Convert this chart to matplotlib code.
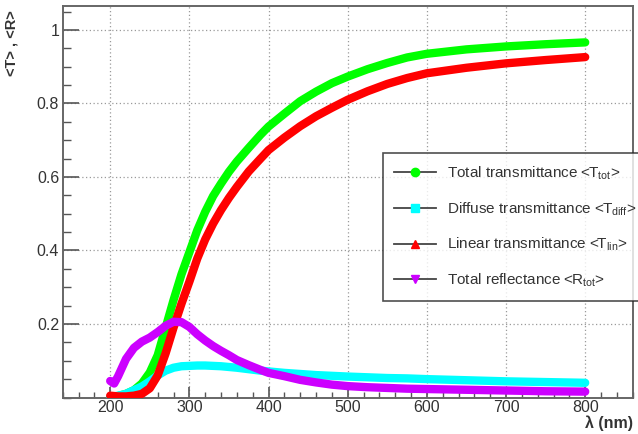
import matplotlib
matplotlib.use("Agg")
import matplotlib.pyplot as plt
from matplotlib.lines import Line2D
from matplotlib.ticker import MultipleLocator, FixedLocator

plt.rcParams['font.family'] = ['Liberation Sans', 'DejaVu Sans']
plt.rcParams['mathtext.fontset'] = 'custom'
plt.rcParams['mathtext.rm'] = 'Liberation Sans'
plt.rcParams['mathtext.it'] = 'Liberation Sans:italic'
plt.rcParams['mathtext.bf'] = 'Liberation Sans:bold'

# ---- data ----
wavelength = [200, 205, 210, 220, 230, 240, 250, 260, 270, 280, 290, 300, 310, 320,
              330, 340, 350, 360, 375, 390, 400, 420, 440, 460, 480, 500, 525, 550,
              575, 600, 650, 700, 750, 800]
t_tot = [0.0, 0.002, 0.004, 0.01, 0.02, 0.038, 0.068, 0.115, 0.19, 0.265, 0.335,
         0.395, 0.455, 0.505, 0.548, 0.582, 0.614, 0.642, 0.679, 0.715, 0.737,
         0.772, 0.806, 0.832, 0.855, 0.873, 0.893, 0.91, 0.925, 0.935, 0.947,
         0.955, 0.961, 0.966]
t_diff = [0.0, 0.003, 0.005, 0.01, 0.02, 0.03, 0.044, 0.06, 0.073, 0.081, 0.085,
          0.086, 0.087, 0.087, 0.086, 0.085, 0.083, 0.081, 0.077, 0.073, 0.071,
          0.067, 0.064, 0.061, 0.059, 0.057, 0.055, 0.053, 0.052, 0.05, 0.047,
          0.044, 0.042, 0.04]
t_lin = [0.005, 0.004, 0.003, 0.003, 0.005, 0.01, 0.025, 0.06, 0.12, 0.19, 0.255,
         0.315, 0.378, 0.43, 0.473, 0.51, 0.543, 0.573, 0.615, 0.65, 0.673, 0.707,
         0.738, 0.765, 0.788, 0.81, 0.833, 0.853, 0.869, 0.882, 0.897, 0.909,
         0.918, 0.926]
r_tot = [0.045, 0.038, 0.058, 0.105, 0.135, 0.152, 0.163, 0.178, 0.195, 0.206,
         0.205, 0.192, 0.172, 0.155, 0.14, 0.127, 0.115, 0.102, 0.088, 0.075,
         0.067, 0.058, 0.048, 0.041, 0.035, 0.031, 0.028, 0.026, 0.024, 0.023,
         0.021, 0.019, 0.017, 0.016]

labels = [r'Total transmittance <T$_{\mathrm{tot}}$>',
          r'Diffuse transmittance <T$_{\mathrm{diff}}$>$\quad\quad$',
          r'Linear transmittance <T$_{\mathrm{lin}}$>',
          r'Total reflectance <R$_{\mathrm{tot}}$>']
colors = ['#00ff00', '#00ffff', '#ff0000', '#cc00ff']
markers = ['o', 's', '^', 'v']
x_ticks = [200, 300, 400, 500, 600, 700, 800]
y_ticks = [0.2, 0.4, 0.6, 0.8, 1.0]
y_ticklabels = ['0.2', '0.4', '0.6', '0.8', '1']

fig = plt.figure(figsize=(6.38, 4.34), dpi=100)
ax = fig.add_axes([62.7 / 638, 36.5 / 434, 570 / 638, 391.5 / 434])

series = [t_tot, t_diff, t_lin, r_tot]
for s, c in zip(series, colors):
    ax.plot(wavelength, s, color=c, lw=6.0, solid_capstyle='round',
            solid_joinstyle='round', zorder=3)

ax.set_xlim(140, 860)
ax.set_ylim(0, 1.065)
ax.xaxis.set_major_locator(FixedLocator(x_ticks))
ax.xaxis.set_minor_locator(MultipleLocator(20))
ax.yaxis.set_major_locator(FixedLocator(y_ticks))
ax.set_yticklabels(y_ticklabels)
ax.yaxis.set_minor_locator(MultipleLocator(0.05))

ax.grid(True, which='major', color='#9a9a9a', lw=0.9, linestyle=(0, (1, 2)), zorder=0)

ax.tick_params(axis='both', which='both', direction='in', colors='#555555',
               labelcolor='#333333', labelsize=11.5, top=False, right=False)
ax.tick_params(axis='x', which='major', length=8, width=1.2, pad=2)
ax.tick_params(axis='x', which='minor', length=4, width=1.0)
ax.tick_params(axis='y', which='major', length=11.5, width=1.2, pad=2.5)
ax.tick_params(axis='y', which='minor', length=6, width=1.0)

for sp in ax.spines.values():
    sp.set_color('#666666')
    sp.set_linewidth(1.4)

ax.text(1.0, -0.065, 'λ (nm)', transform=ax.transAxes, ha='right', va='center',
        fontsize=11.5, fontweight='bold', color='#333333')
ax.text(-0.089, 0.99, '<T> , <R>', transform=ax.transAxes, ha='center', va='top',
        rotation=90, fontsize=10.5, fontweight='bold', color='#333333')

handles = [Line2D([0], [0], color='#444444', lw=1.3, marker=m, markersize=6,
                  markerfacecolor=c, markeredgecolor=c)
           for m, c in zip(markers, colors)]
leg = fig.legend(handles, labels, loc='upper left',
                 bbox_to_anchor=(383 / 638, 1 - 153 / 434),
                 fontsize=11, frameon=True, fancybox=False, shadow=False,
                 borderpad=0.75, labelspacing=1.2, handlelength=2.75,
                 handletextpad=0.7, borderaxespad=0)
leg.get_frame().set_edgecolor('#222222')
leg.get_frame().set_linewidth(1.2)
for t in leg.get_texts():
    t.set_color('#333333')

fig.savefig('out.png', dpi=100)
